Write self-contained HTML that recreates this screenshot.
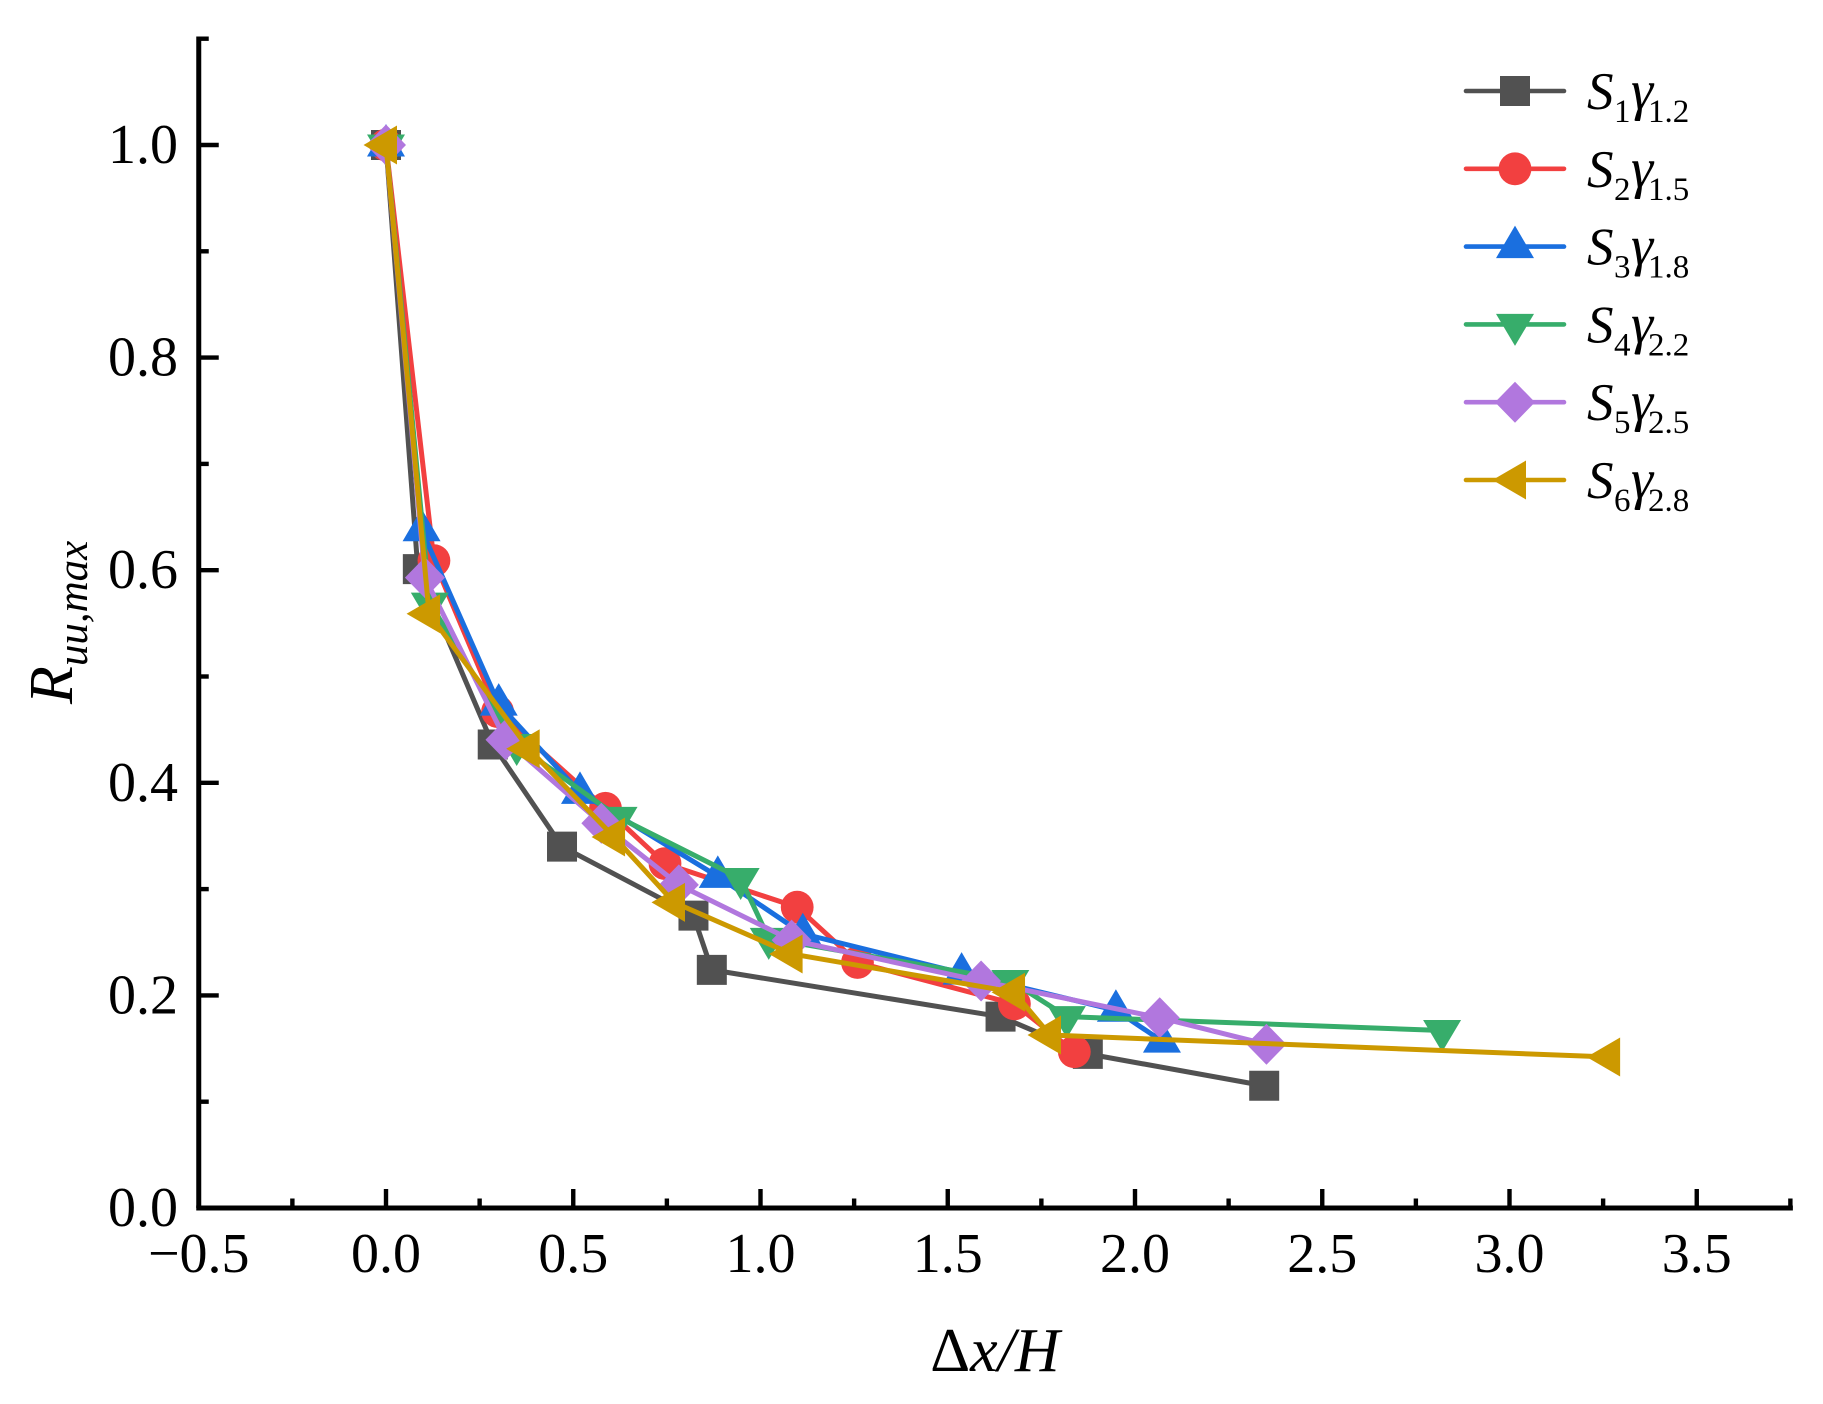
<!DOCTYPE html>
<html lang="en">
<head>
<meta charset="utf-8">
<title>Ruu,max vs Δx/H</title>
<style>
html,body{margin:0;padding:0;background:#fff;}
svg{display:block;}
text{font-family:"Liberation Serif",serif;fill:#000;}
.it{font-style:italic;}
</style>
</head>
<body>
<svg id="chart" width="1823" height="1404" viewBox="0 0 1823 1404" xmlns="http://www.w3.org/2000/svg">
<rect x="0" y="0" width="1823" height="1404" fill="#fff"/>
<g id="series-layer"></g>
<g id="axis-layer"></g>
<g id="legend-layer"></g>
<text x="995" y="1371" font-size="62" text-anchor="middle">Δ<tspan class="it">x/H</tspan></text>
<text transform="translate(72,704) rotate(-90)" font-size="62"><tspan class="it">R</tspan><tspan class="it" font-size="43" dy="15">uu,max</tspan></text>
</svg>
<script>
const xMajorTicks = [-0.5, 0, 0.5, 1, 1.5, 2, 2.5, 3, 3.5];
const xTickLabels = ['\u22120.5', '0.0', '0.5', '1.0', '1.5', '2.0', '2.5', '3.0', '3.5'];
const xMinorTicks = [-0.25, 0.25, 0.75, 1.25, 1.75, 2.25, 2.75, 3.25, 3.75];
const yMajorTicks = [0, 0.2, 0.4, 0.6, 0.8, 1];
const yTickLabels = ['0.0', '0.2', '0.4', '0.6', '0.8', '1.0'];
const yMinorTicks = [0.1, 0.3, 0.5, 0.7, 0.9, 1.1];

const s1X = [0, 0.085, 0.285, 0.47, 0.821, 0.87, 1.641, 1.874, 2.345];
const s1Y = [1, 0.601, 0.436, 0.34, 0.275, 0.224, 0.18, 0.145, 0.115];
const s2X = [0, 0.128, 0.298, 0.586, 0.745, 1.098, 1.259, 1.678, 1.838];
const s2Y = [1, 0.609, 0.467, 0.376, 0.324, 0.283, 0.231, 0.192, 0.147];
const s3X = [0, 0.095, 0.301, 0.518, 0.886, 1.113, 1.537, 1.949, 2.072];
const s3Y = [1, 0.638, 0.474, 0.391, 0.312, 0.258, 0.221, 0.186, 0.157];
const s4X = [0, 0.117, 0.349, 0.621, 0.947, 1.022, 1.667, 1.818, 2.82];
const s4Y = [1, 0.569, 0.436, 0.3675, 0.31, 0.2537, 0.214, 0.18, 0.167];
const s5X = [0, 0.104, 0.319, 0.575, 0.782, 1.083, 1.589, 2.066, 2.351];
const s5Y = [1, 0.593, 0.4405, 0.362, 0.304, 0.252, 0.2135, 0.179, 0.154];
const s6X = [0, 0.115, 0.381, 0.609, 0.769, 1.083, 1.677, 1.773, 3.266];
const s6Y = [1, 0.559, 0.432, 0.349, 0.2875, 0.239, 0.203, 0.1627, 0.142];

const seriesXValues = [s1X, s2X, s3X, s4X, s5X, s6X];
const seriesYValues = [s1Y, s2Y, s3Y, s4Y, s5Y, s6Y];
const seriesSubscriptS = ['1', '2', '3', '4', '5', '6'];
const seriesSubscriptGamma = ['1.2', '1.5', '1.8', '2.2', '2.5', '2.8'];
const seriesColors = ['#515151', '#F24040', '#1A6FDF', '#37AD6B', '#B177DE', '#CC9900'];
const seriesMarkers = ['square', 'circle', 'up', 'down', 'diamond', 'left'];

const SVG_NS = 'http://www.w3.org/2000/svg';
const xScale = v => 386 + v * 374.5;
const yScale = v => 1208 - v * 1063;

function make(tag, parent) {
  const el = document.createElementNS(SVG_NS, tag);
  parent.appendChild(el);
  return el;
}

function drawMarker(parent, kind, cx, cy, color) {
  let el;
  if (kind === 'circle') {
    el = make('circle', parent);
    el.setAttribute('cx', cx);
    el.setAttribute('cy', cy);
    el.setAttribute('r', 16.4);
  } else {
    let pts;
    if (kind === 'square') pts = [[-15, -15], [15, -15], [15, 15], [-15, 15]];
    if (kind === 'up') pts = [[0, -21], [19, 11.5], [-19, 11.5]];
    if (kind === 'down') pts = [[0, 21.5], [19, -10.5], [-19, -10.5]];
    if (kind === 'diamond') pts = [[0, -20.5], [20, 0], [0, 20.5], [-20, 0]];
    if (kind === 'left') pts = [[-22.5, 0], [11, -19.5], [11, 19.5]];
    el = make('polygon', parent);
    el.setAttribute('points', pts.map(p => (cx + p[0]) + ',' + (cy + p[1])).join(' '));
  }
  el.setAttribute('fill', color);
  
  
}

const seriesLayer = document.getElementById('series-layer');
seriesXValues.forEach((xs, i) => {
  const g = make('g', seriesLayer);
  
  
  const line = make('polyline', g);
  line.setAttribute('points', xs.map((x, j) => xScale(x) + ',' + yScale(seriesYValues[i][j])).join(' '));
  line.setAttribute('fill', 'none');
  line.setAttribute('stroke', seriesColors[i]);
  line.setAttribute('stroke-width', 5);
  line.setAttribute('stroke-linejoin', 'round');
  
  
  xs.forEach((x, j) => drawMarker(g, seriesMarkers[i], xScale(x), yScale(seriesYValues[i][j]), seriesColors[i]));
});

const axisLayer = document.getElementById('axis-layer');
function drawSegment(x1, y1, x2, y2, w, name) {
  const l = make('line', axisLayer);
  l.setAttribute('x1', x1);
  l.setAttribute('y1', y1);
  l.setAttribute('x2', x2);
  l.setAttribute('y2', y2);
  l.setAttribute('stroke', '#000');
  l.setAttribute('stroke-width', w);
  
  
}
function drawLabel(x, y, s, anchor, name) {
  const t = make('text', axisLayer);
  t.setAttribute('x', x);
  t.setAttribute('y', y);
  t.setAttribute('font-size', 56);
  t.setAttribute('text-anchor', anchor);
  t.textContent = s;
  
  
}
const axisX0 = xScale(-0.5), axisX1 = xScale(3.75), axisY0 = yScale(0), axisY1 = yScale(1.1);
drawSegment(axisX0 - 2.5, axisY0, axisX1 + 2.5, axisY0, 5, 'x-axis-line');
drawSegment(axisX0, axisY0, axisX0, axisY1 - 2.2, 5, 'y-axis-line');
xMajorTicks.forEach((v, i) => {
  drawSegment(xScale(v), axisY0, xScale(v), axisY0 - 19, 4.4, 'x-major-tick');
  drawLabel(xScale(v), 1272, xTickLabels[i], 'middle', 'x-tick-label');
});
xMinorTicks.forEach(v => drawSegment(xScale(v), axisY0, xScale(v), axisY0 - 9.5, 4.4, 'x-minor-tick'));
yMajorTicks.forEach((v, i) => {
  drawSegment(axisX0, yScale(v), axisX0 + 20, yScale(v), 4.4, 'y-major-tick');
  drawLabel(178, yScale(v) + 18, yTickLabels[i], 'end', 'y-tick-label');
});
yMinorTicks.forEach(v => drawSegment(axisX0, yScale(v), axisX0 + 10, yScale(v), 4.4, 'y-minor-tick'));

const legendLayer = document.getElementById('legend-layer');
seriesColors.forEach((color, i) => {
  const cy = 91 + i * 77.8;
  const g = make('g', legendLayer);
  
  
  const l = make('line', g);
  l.setAttribute('x1', 1466);
  l.setAttribute('y1', cy);
  l.setAttribute('x2', 1564);
  l.setAttribute('y2', cy);
  l.setAttribute('stroke', color);
  l.setAttribute('stroke-width', 4.6);
  l.setAttribute('stroke-linecap', 'round');
  
  
  drawMarker(g, seriesMarkers[i], 1515, cy, color);
  const t = make('text', g);
  
  
  const pieces = [
    ['S', 1587, 18, 53, true],
    [seriesSubscriptS[i], 1614, 31, 33, false],
    ['\u03B3', 1631, 18, 56, true],
    [seriesSubscriptGamma[i], 1648, 31, 33, false]
  ];
  pieces.forEach(p => {
    const s = make('tspan', t);
    s.setAttribute('x', p[1]);
    s.setAttribute('y', cy + p[2]);
    s.setAttribute('font-size', p[3]);
    if (p[4]) s.setAttribute('font-style', 'italic');
    s.textContent = p[0];
  });
});
</script>
</body>
</html>
